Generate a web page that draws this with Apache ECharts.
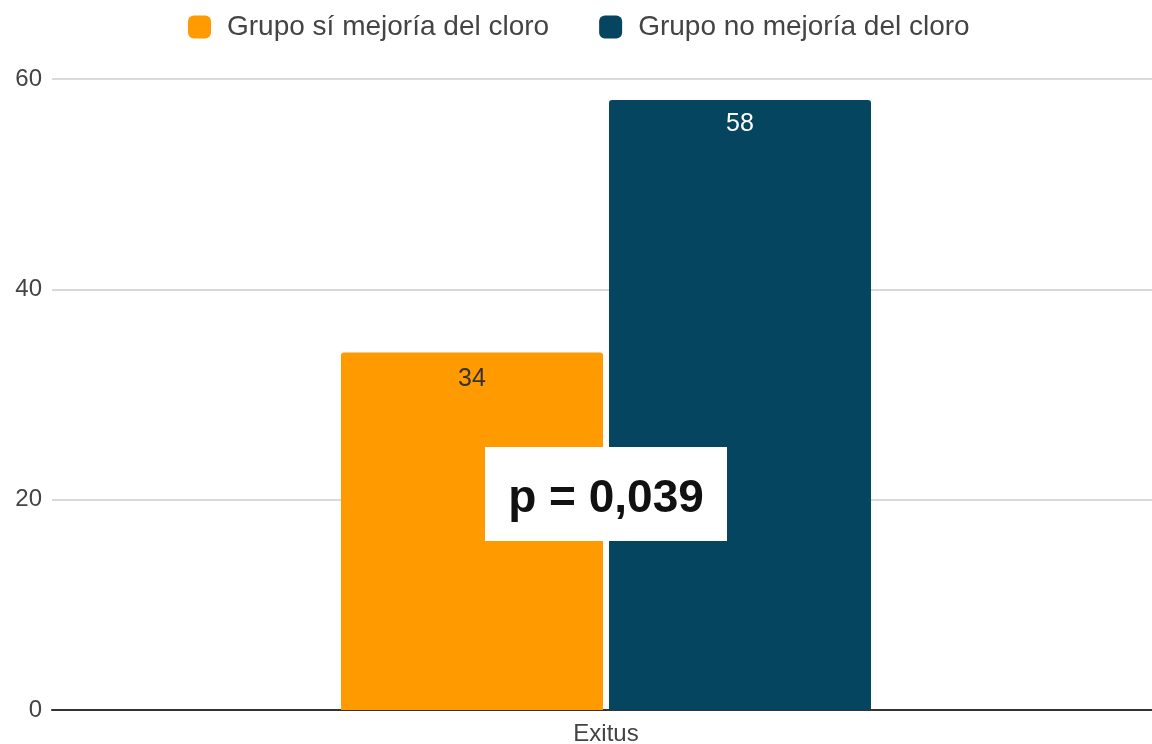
<!DOCTYPE html>
<html>
<head>
<meta charset="utf-8">
<script src="https://cdn.jsdelivr.net/npm/echarts@6/dist/echarts.min.js"></script>
<style>
  html, body { margin: 0; padding: 0; background: #fff; overflow: hidden; }
  #chart { width: 1160px; height: 744px; }
</style>
</head>
<body>
<div id="chart"></div>
<script>
const categories = ["Exitus"];
const seriesNames = ["Grupo sí mejoría del cloro", "Grupo no mejoría del cloro"];
const siMejoria = [34];
const noMejoria = [58];
const yTicks = [0, 20, 40, 60];
const pValueText = "p = 0,039";

// chart is a bit wider than the window so the category centre lands where the reference has it
var myChart = echarts.init(document.getElementById("chart"), null, { width: 1160, height: 744 });

const option = {
  animation: false,
  textStyle: { fontFamily: "Liberation Sans, Arial, sans-serif" },
  legend: {
    top: 8,
    left: 183,
    itemWidth: 23,
    itemHeight: 23,
    itemGap: 50,
    icon: "roundRect",
    textStyle: { fontSize: 28, color: "#444", padding: [0, 0, 0, 11] },
    data: seriesNames,
  },
  grid: { left: 52, right: 0, top: 79, bottom: 34, containLabel: false, outerBoundsMode: "none" },
  xAxis: {
    type: "category",
    data: categories,
    axisLine: { lineStyle: { color: "#333", width: 2 } },
    axisTick: { show: false },
    axisLabel: { fontSize: 24, color: "#444", margin: 12 },
  },
  yAxis: {
    type: "value",
    min: yTicks[0],
    max: yTicks[yTicks.length - 1],
    interval: 20,
    axisLine: { show: false },
    axisTick: { show: false },
    axisLabel: { fontSize: 24, color: "#444", margin: 10 },
    splitLine: { lineStyle: { color: "#d9d9d9", width: 2 } },
  },
  series: [
    {
      name: seriesNames[0],
      type: "bar",
      data: siMejoria,
      barWidth: 262,
      barGap: "2.3%",
      itemStyle: { color: "#ff9a00", borderRadius: [3, 3, 0, 0] },
      label: { show: true, position: "insideTop", distance: 14, fontSize: 25, color: "#333" },
    },
    {
      name: seriesNames[1],
      type: "bar",
      data: noMejoria,
      barWidth: 262,
      itemStyle: { color: "#05455f", borderRadius: [3, 3, 0, 0] },
      label: { show: true, position: "insideTop", distance: 12, fontSize: 25, color: "#fff" },
    },
  ],
  graphic: [
    {
      type: "group",
      left: 485,
      top: 447,
      z: 100,
      children: [
        { type: "rect", z: 100, shape: { x: 0, y: 0, width: 242, height: 94 }, style: { fill: "#fff" } },
        {
          type: "text",
          z: 101,
          x: 121,
          y: 52,
          style: {
            text: pValueText,
            fontSize: 46,
            fontWeight: "bold",
            fontFamily: "Liberation Sans, Arial, sans-serif",
            fill: "#111",
            align: "center",
            verticalAlign: "middle",
          },
        },
      ],
    },
  ],
};
myChart.setOption(option);
</script>
</body>
</html>
